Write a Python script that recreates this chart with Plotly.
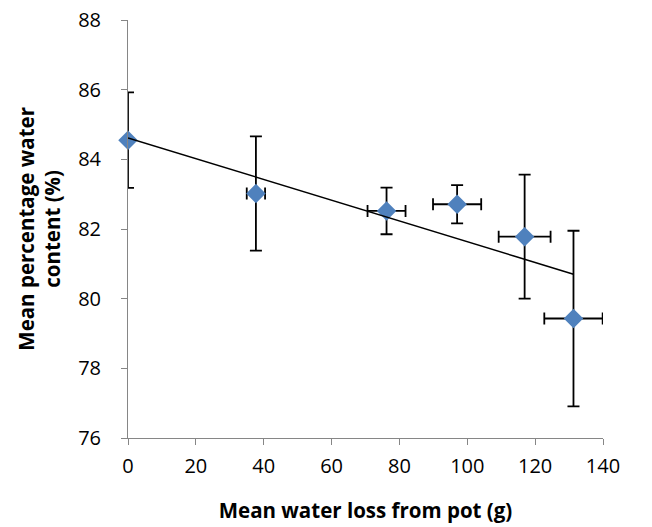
import numpy as np
import plotly.graph_objects as go

# Data
water_loss = [0, 37.7, 76.2, 97.0, 116.9, 131.3]          # Mean water loss from pot (g)
water_content = [84.55, 83.02, 82.52, 82.71, 81.78, 79.43]  # Mean percentage water content (%)
content_err = [1.37, 1.64, 0.67, 0.55, 1.78, 2.52]
loss_err = [0, 2.7, 5.6, 7.1, 7.65, 8.6]

x_ticks = [0, 20, 40, 60, 80, 100, 120, 140]
y_ticks = [76, 78, 80, 82, 84, 86, 88]

# Linear trend line (least squares)
slope, intercept = np.polyfit(water_loss, water_content, 1)
trend_x = [min(water_loss), max(water_loss)]
trend_y = [slope * v + intercept for v in trend_x]

fig = go.Figure()
fig.add_trace(go.Scatter(
    x=water_loss, y=water_content, mode="markers", cliponaxis=False,
    marker=dict(symbol="diamond", size=15, color="#4F81BD", line=dict(width=0)),
    error_y=dict(type="data", array=content_err, visible=True, color="black",
                 thickness=1.8, width=6),
    error_x=dict(type="data", array=loss_err, visible=True, color="black",
                 thickness=1.8, width=6),
    showlegend=False,
))
fig.add_trace(go.Scatter(
    x=trend_x, y=trend_y, mode="lines", cliponaxis=False,
    line=dict(color="black", width=1.5), showlegend=False,
))

tick_font = dict(family="Open Sans", size=20, color="black")
title_font = dict(family="Open Sans", size=20.5, color="black")

fig.update_layout(
    width=652, height=527,
    margin=dict(l=128, r=49, t=20, b=89, autoexpand=False),
    paper_bgcolor="white", plot_bgcolor="white",
    xaxis=dict(
        range=[0, 140], tickvals=x_ticks, ticktext=[str(v) for v in x_ticks],
        showline=True, linecolor="#868686", linewidth=1,
        ticks="outside", ticklen=6, tickcolor="#868686", tickwidth=1,
        showgrid=False, zeroline=False, tickfont=tick_font,
        ticklabelstandoff=4, automargin=False,
        title=dict(text="<b>Mean water loss from pot (g)</b>", font=title_font, standoff=25),
    ),
    yaxis=dict(
        range=[76, 88], tickvals=y_ticks, ticktext=[str(v) for v in y_ticks],
        showline=True, linecolor="#868686", linewidth=1,
        ticks="outside", ticklen=6, tickcolor="#868686", tickwidth=1,
        showgrid=False, zeroline=False, tickfont=tick_font,
        ticklabelstandoff=16, automargin=False,
    ),
    annotations=[dict(
        text="<b>Mean percentage water<br>content (%)</b>",
        xref="paper", yref="paper", x=-0.188, y=0.5,
        xanchor="center", yanchor="middle", textangle=-90,
        showarrow=False, font=title_font,
    )],
)

fig.write_html("out.html")
